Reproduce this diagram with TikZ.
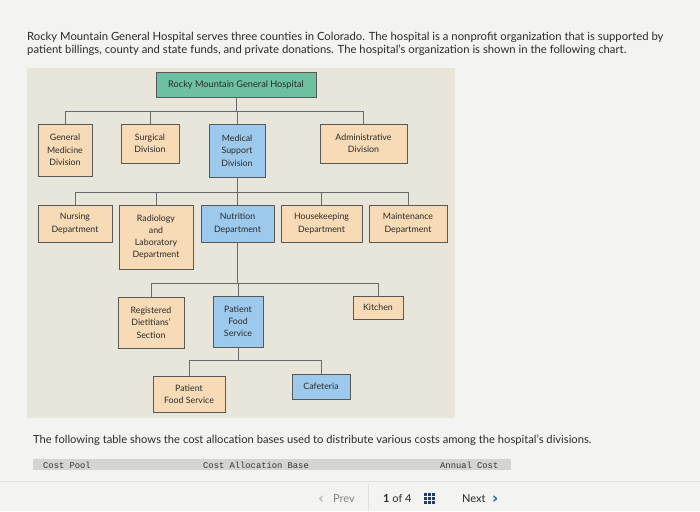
\documentclass[tikz,border=0pt]{standalone}
\usepackage{fontspec}
\setmainfont{Lato}
\setmonofont{Liberation Mono}
\newfontfamily\symfont{DejaVu Sans}
\usetikzlibrary{shadows}
\definecolor{pagebg}{HTML}{F3F3F2}
\definecolor{chartbg}{HTML}{E8E5DA}
\definecolor{peach}{HTML}{F7DBB6}
\definecolor{skyblue}{HTML}{9DCAEC}
\definecolor{mint}{HTML}{6DC0A0}
\definecolor{boxline}{HTML}{585858}
\definecolor{linkgray}{HTML}{6A6A6A}
\definecolor{ink}{HTML}{2A2A2A}
\definecolor{barbg}{HTML}{D4D4D4}
\definecolor{navy}{HTML}{22376A}
\definecolor{linkblue}{HTML}{1D5FA6}

\begin{document}
\begin{tikzpicture}[x=1pt,y=-1pt,
  box/.style={draw=boxline, line width=0.8pt, fill=peach, align=center, inner sep=0pt,
    text=ink, font=\fontsize{8.8}{12.3}\selectfont,
    drop shadow={opacity=0.3, shadow xshift=1.2pt, shadow yshift=-1.2pt}},
  bluebox/.style={box, fill=skyblue},
  link/.style={draw=linkgray, line width=0.8pt},
  txt/.style={anchor=base west, inner sep=0pt, text=ink},
  colhead/.style={txt, font=\ttfamily\fontsize{8.8}{10}\selectfont, text=black!80}]
\useasboundingbox (0,0) rectangle (700,511);
\fill[pagebg] (0,0) rectangle (700,511);

% intro text
\node[txt, font=\fontsize{11.3}{13}\selectfont] (intro1) at (27,41)
  {Rocky Mountain General Hospital serves three counties in Colorado. The hospital is a nonprofit organization that is supported by};
\node[txt, font=\fontsize{11.3}{13}\selectfont] (intro2) at (27,53)
  {patient billings, county and state funds, and private donations. The hospital's organization is shown in the following chart.};

% chart
\fill[chartbg] (27,68) rectangle (455,418);

\node[box, fill=mint, minimum width=160, minimum height=25, font=\fontsize{9.2}{11}\selectfont] (hosp) at (236,84.5) {Rocky Mountain General Hospital};

\node[box, minimum width=54, minimum height=52] (gmd) at (65,150) {General\\Medicine\\Division};
\node[box, minimum width=58, minimum height=39] (surg) at (150,143.5) {Surgical\\Division};
\node[bluebox, minimum width=56, minimum height=53] (msd) at (237,150.5) {Medical\\Support\\Division};
\node[box, minimum width=87, minimum height=39] (admin) at (363.5,143.5) {Administrative\\Division};

\node[box, minimum width=74, minimum height=37] (nurse) at (75,223.5) {Nursing\\Department};
\node[box, minimum width=74, minimum height=64] (radlab) at (156,237) {Radiology\\and\\Laboratory\\Department};
\node[bluebox, minimum width=73, minimum height=37] (nutr) at (237.5,223.5) {Nutrition\\Department};
\node[box, minimum width=81, minimum height=37] (house) at (321.5,223.5) {Housekeeping\\Department};
\node[box, minimum width=78, minimum height=37] (maint) at (408,223.5) {Maintenance\\Department};

\node[box, minimum width=66, minimum height=51] (diet) at (151,322.5) {Registered\\Dietitians'\\Section};
\node[bluebox, minimum width=50, minimum height=51] (pfs) at (238,321.5) {Patient\\Food\\Service};
\node[box, minimum width=50, minimum height=23] (kitchen) at (378,307.5) {Kitchen};

\node[box, minimum width=72, minimum height=36] (pfsvc) at (189,394) {Patient\\Food Service};
\node[bluebox, minimum width=58, minimum height=25] (cafe) at (321,386.5) {Cafeteria};

% buses
\coordinate (bus1) at (0,111);
\coordinate (bus2) at (0,192);
\coordinate (bus3) at (0,283);
\coordinate (bus4) at (0,360);

\foreach \kid in {gmd,surg,msd,admin}
  \draw[link] (hosp.south) -- (hosp.south |- bus1) -| (\kid.north);
\foreach \kid in {nurse,radlab,nutr,house,maint}
  \draw[link] (msd.south) -- (msd.south |- bus2) -| (\kid.north);
\foreach \kid in {diet,pfs,kitchen}
  \draw[link] (nutr.south) -- (nutr.south |- bus3) -| (\kid.north);
\foreach \kid in {pfsvc,cafe}
  \draw[link] (pfs.south) -- (pfs.south |- bus4) -| (\kid.north);

% table part
\node[txt, font=\fontsize{11.2}{13}\selectfont] (tabnote) at (33,443)
  {The following table shows the cost allocation bases used to distribute various costs among the hospital's divisions.};
\fill[barbg] (33,459) rectangle (511,470);
\node[colhead] (colpool) at (43,468) {Cost Pool};
\node[colhead] (colbase) at (203,468) {Cost Allocation Base};
\node[colhead] (colcost) at (440,468) {Annual Cost};
\draw[black!12, line width=0.6pt] (0,481) -- (700,481);
\draw[black!12, line width=0.6pt] (368,484) -- (368,511);

% navigation
\node[txt, font=\symfont\fontsize{15}{15}\selectfont, text=black!35] (prevarrow) at (318,503) {‹};
\node[txt, font=\fontsize{11}{12}\selectfont, text=black!50] (prev) at (333,502) {Prev};
\node[txt, font=\fontsize{11}{12}\selectfont] (page) at (383,502) {\textbf{1} of 4};
\foreach \i in {0,1,2}
  \foreach \j in {0,1,2}
    \fill[navy] (424+\i*4,493+\j*4) rectangle ++(3,3);
\node[txt, font=\fontsize{11}{12}\selectfont] (next) at (462,502) {Next};
\node[txt, font=\symfont\bfseries\fontsize{15}{15}\selectfont, text=linkblue] (nextarrow) at (492,503) {›};
\end{tikzpicture}
\end{document}
